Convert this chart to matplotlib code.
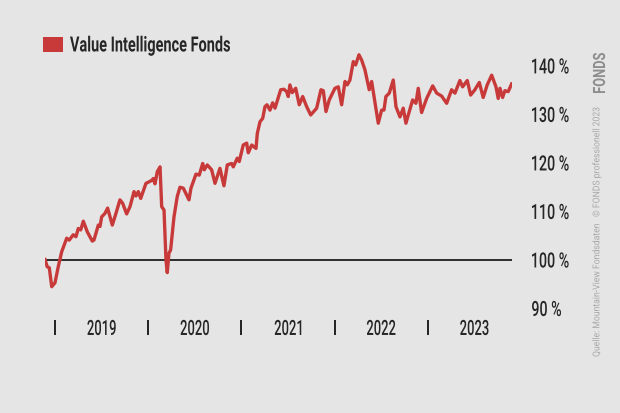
import matplotlib
matplotlib.use("Agg")
import matplotlib.pyplot as plt
from matplotlib.font_manager import FontProperties
from matplotlib.patches import PathPatch, Rectangle
from matplotlib.textpath import TextPath
from matplotlib.transforms import Affine2D

# ---------------------------------------------------------------------------
# Data (decimal year, value in % of start)
# ---------------------------------------------------------------------------

SERIES_NAME = "Value Intelligence Fonds"

years = [
    2018.893, 2018.917, 2018.939, 2018.965, 2019.000, 2019.035, 2019.072, 2019.126,
    2019.153, 2019.196, 2019.225, 2019.250, 2019.276, 2019.304, 2019.347, 2019.400,
    2019.418, 2019.465, 2019.483, 2019.501, 2019.536, 2019.565, 2019.615, 2019.654,
    2019.697, 2019.726, 2019.769, 2019.805, 2019.848, 2019.869, 2019.894, 2019.920,
    2019.976, 2020.038, 2020.055, 2020.073, 2020.098, 2020.127, 2020.145, 2020.170,
    2020.191, 2020.205, 2020.223, 2020.241, 2020.277, 2020.312, 2020.341, 2020.377,
    2020.438, 2020.459, 2020.513, 2020.548, 2020.585, 2020.602, 2020.634, 2020.681,
    2020.717, 2020.770, 2020.813, 2020.849, 2020.896, 2020.913, 2020.956, 2020.977,
    2021.020, 2021.057, 2021.074, 2021.111, 2021.157, 2021.171, 2021.200, 2021.229,
    2021.253, 2021.275, 2021.307, 2021.336, 2021.361, 2021.422, 2021.457, 2021.486,
    2021.503, 2021.521, 2021.546, 2021.583, 2021.621, 2021.658, 2021.701, 2021.744,
    2021.808, 2021.854, 2021.879, 2021.908, 2021.943, 2022.004, 2022.040, 2022.076,
    2022.112, 2022.136, 2022.165, 2022.201, 2022.226, 2022.262, 2022.291, 2022.326,
    2022.372, 2022.398, 2022.433, 2022.469, 2022.505, 2022.530, 2022.551, 2022.587,
    2022.630, 2022.659, 2022.702, 2022.737, 2022.766, 2022.791, 2022.838, 2022.873,
    2022.898, 2022.934, 2022.988, 2023.053, 2023.096, 2023.149, 2023.203, 2023.256,
    2023.292, 2023.345, 2023.374, 2023.424, 2023.460, 2023.506, 2023.553, 2023.595,
    2023.638, 2023.686, 2023.732, 2023.756, 2023.775, 2023.803, 2023.828, 2023.863,
    2023.900,
]

values = [
    100.1, 98.6, 98.4, 94.5, 95.3, 98.6, 101.7, 104.5,
    104.1, 105.2, 104.8, 106.5, 106.2, 108.0, 105.8, 103.9,
    104.1, 107.2, 106.9, 108.9, 109.6, 110.7, 107.2, 109.6,
    112.4, 111.7, 109.5, 111.0, 114.1, 113.2, 114.1, 112.7,
    115.8, 116.4, 116.8, 115.7, 118.2, 119.2, 111.0, 110.3,
    100.0, 97.4, 101.4, 102.1, 108.9, 113.1, 115.0, 114.8,
    112.4, 114.8, 117.7, 117.5, 119.9, 118.6, 119.6, 118.6,
    115.8, 118.9, 115.3, 119.6, 119.9, 119.2, 121.0, 120.3,
    123.7, 124.1, 122.1, 123.7, 123.0, 126.1, 128.5, 129.2,
    131.6, 132.0, 130.9, 132.4, 131.3, 135.1, 135.2, 134.7,
    133.7, 136.1, 134.5, 135.4, 132.0, 133.7, 131.6, 129.9,
    131.3, 135.1, 134.9, 130.6, 133.0, 135.4, 135.7, 132.0,
    136.8, 136.1, 137.1, 140.9, 140.2, 142.3, 141.2, 139.2,
    135.1, 136.8, 132.6, 128.2, 130.9, 130.9, 133.7, 134.4,
    137.1, 131.6, 129.5, 131.3, 128.2, 129.9, 133.0, 132.3,
    135.4, 130.4, 133.3, 135.9, 134.4, 133.8, 132.3, 135.1,
    134.4, 137.0, 135.7, 137.0, 134.0, 135.1, 136.6, 133.5,
    136.1, 138.1, 135.7, 133.3, 135.4, 133.5, 134.9, 134.7,
    136.3,
]

year_labels = ["2019", "2020", "2021", "2022", "2023"]
y_ticks = [90, 100, 110, 120, 130, 140]
BASELINE = 100

SOURCE = "Quelle: Mountain-View Fondsdaten   © FONDS professionell 2023"
LOGO = "FONDS"

# ---------------------------------------------------------------------------
# Style
# ---------------------------------------------------------------------------

BG = "#e5e5e5"
RED = "#c8393a"
TXT = "#262626"
FONT = "Roboto"
CAP = 0.711  # cap height of Roboto in em

W, H = 620, 413
fig = plt.figure(figsize=(W / 100, H / 100), dpi=100, facecolor=BG)
ax = fig.add_axes([0.0726, 0.2295, 0.7532, 0.6695])
ax.set_facecolor(BG)


def ctext(x, y, s, size, sx=0.65, width=None, weight="medium", color=TXT,
          ha="left", rot=0):
    """Condensed text: a Roboto path squeezed horizontally, placed in pixels
    (x from left, y from top), vertically centred on the cap height."""
    tp = TextPath((0, 0), s, size=size, prop=FontProperties(family=FONT, weight=weight))
    bb = tp.get_extents()
    if width is not None:
        sx = width / bb.width
    dx = {"left": -bb.x0, "center": -(bb.x0 + bb.width / 2), "right": -bb.x1}[ha]
    tr = (Affine2D().translate(dx, -size * CAP / 2).scale(sx, 1)
          .rotate_deg(rot).translate(x, H - y))
    fig.add_artist(PathPatch(tp, transform=tr, fc=color, ec="none", lw=0))


ax.axhline(BASELINE, color="#1e1e1e", lw=1.3, zorder=1)
ax.plot(years, values, color=RED, lw=2.4, solid_joinstyle="round", zorder=2)

ax.set_xlim(2018.893, 2023.904)
ax.set_ylim(88, 145)
ax.set_xticks([])
ax.set_yticks([])
for s in ax.spines.values():
    s.set_visible(False)

# x labels: years centred between "I" separators
first = int(year_labels[0])
for i, lab in enumerate(year_labels):
    xb = ax.transData.transform((first + i, BASELINE))[0]
    xm = ax.transData.transform((first + i + 0.5, BASELINE))[0]
    ctext(round(xb), 327.5, "I", 21, sx=0.6, ha="center", weight="normal")
    ctext(xm, 327.5, lab, 21, sx=0.62, ha="center")

# y labels on the right
for v in y_ticks:
    yp = H - ax.transData.transform((first, v))[1]
    ctext(532, yp, f"{v} %", 21, sx=0.68)

# legend: square + label
fig.add_artist(Rectangle((43 / W, 1 - 51.5 / H), 20 / W, 14.5 / H,
                         transform=fig.transFigure, color=RED, lw=0))
ctext(70, 44, SERIES_NAME, 21, width=160, weight="bold")

# vertical source note and logo
ctext(596, 356.5, SOURCE, 9.5, width=249, color="#a9a9a9", rot=90, weight="normal")
ctext(599, 93, LOGO, 17, width=40, weight="bold", color="#8e8e8e", rot=90)

fig.savefig("out.png", dpi=100, facecolor=BG)
